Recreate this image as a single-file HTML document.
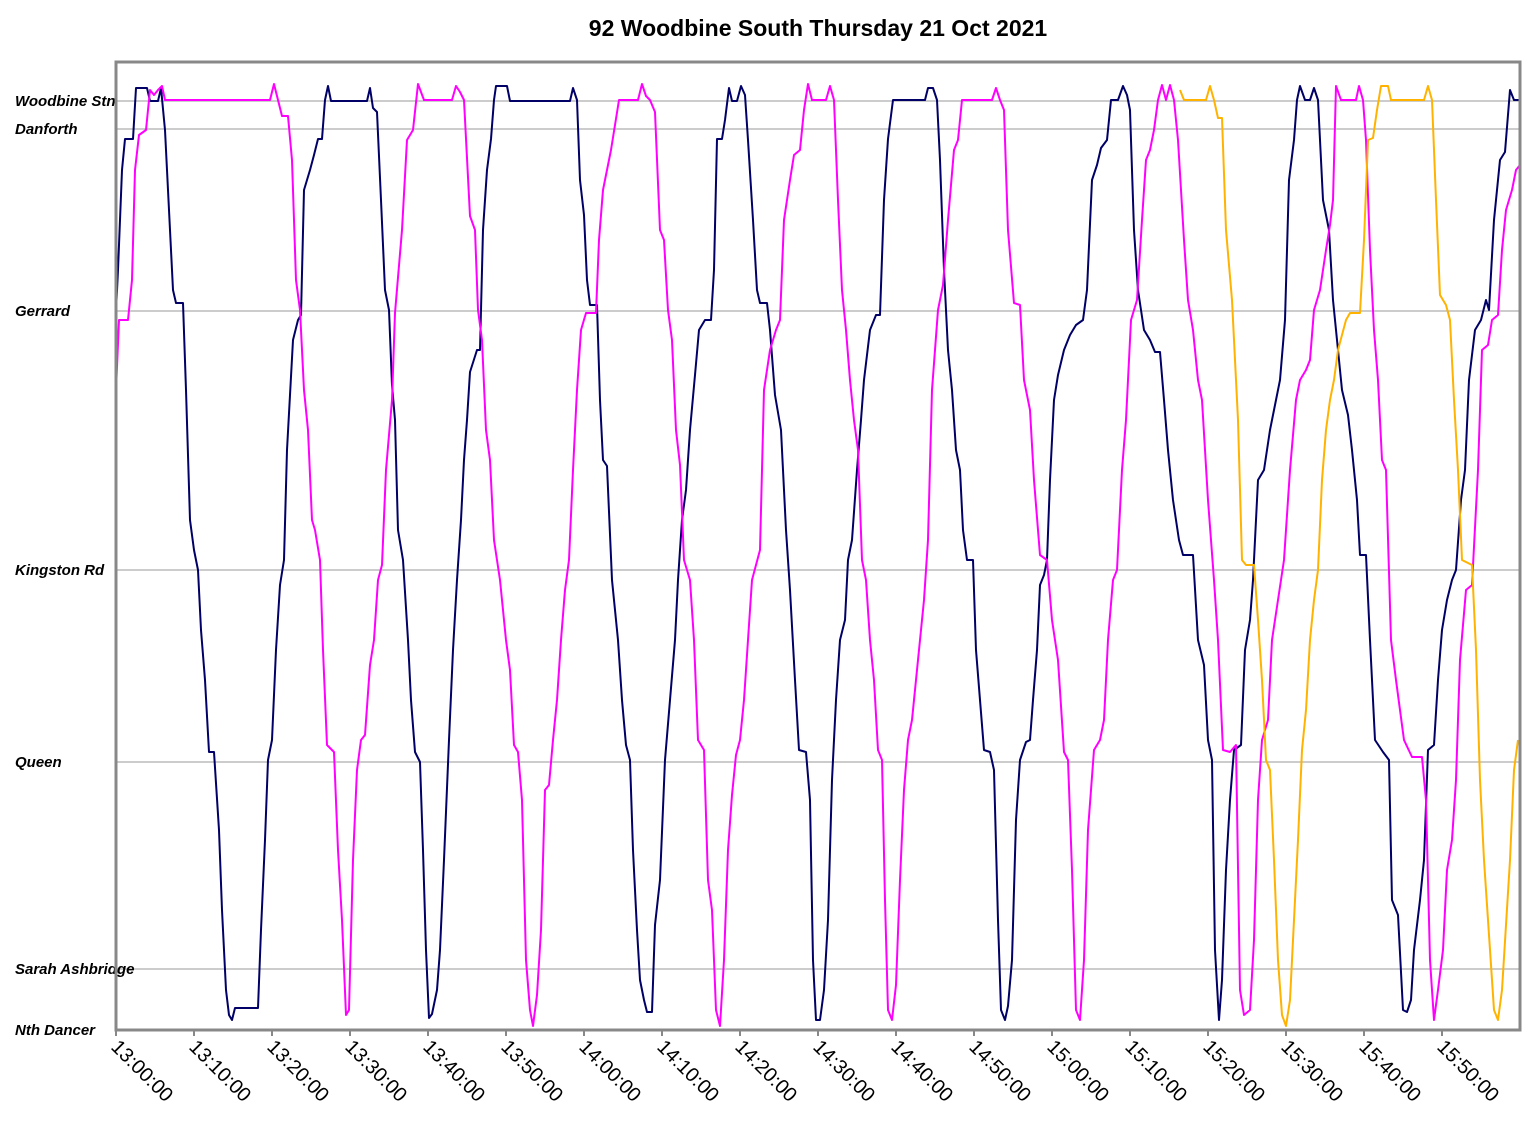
<!DOCTYPE html>
<html><head><meta charset="utf-8"><style>
html,body{margin:0;padding:0;background:#fff;}
svg text{font-family:"Liberation Sans",Arial,sans-serif;}
</style></head><body>
<svg id="chart" width="1534" height="1130" viewBox="0 0 1534 1130" xmlns="http://www.w3.org/2000/svg">
<text x="818" y="36" text-anchor="middle" font-size="23" font-weight="bold">92 Woodbine South Thursday 21 Oct 2021</text>
<g id="grid"></g>
<g id="ylabels"></g>
<g id="xlabels"></g>
<g id="series"></g>
<rect x="116" y="62" width="1404" height="968" fill="none" stroke="#888" stroke-width="3"/>
</svg>
<script>
// Station names and their position (distance units, chart reading)
const stationNames = ["Woodbine Stn","Danforth","Gerrard","Kingston Rd","Queen","Sarah Ashbridge","Nth Dancer"];
const stationPos = [101,129,311,570,762,969,1030];
const tickLabels = ["13:00:00","13:10:00","13:20:00","13:30:00","13:40:00","13:50:00","14:00:00","14:10:00","14:20:00","14:30:00","14:40:00","14:50:00","15:00:00","15:10:00","15:20:00","15:30:00","15:40:00","15:50:00"];
const tickTimes = [116,194,272,350,428,506,584,662,740,818,896,974,1052,1130,1208,1286,1364,1442];
// series data: [time unit, distance unit]
const navyBus = [[116,311],[118,270],[122,170],[125,139],[133,139],[136,88],[147,88],[150,101],[158,101],[161,88],[165,130],[170,230],[173,290],[176,303],[183,303],[186,390],[190,520],[194,550],[198,570],[201,630],[205,680],[209,752],[214,752],[219,830],[222,910],[226,990],[229,1015],[232,1020],[235,1008],[258,1008],[261,930],[265,840],[268,760],[272,740],[276,650],[280,585],[284,560],[287,450],[293,340],[298,320],[301,315],[304,190],[310,170],[314,155],[318,139],[322,139],[325,100],[328,86],[331,101],[367,101],[370,88],[373,108],[377,112],[381,200],[385,290],[389,310],[392,385],[395,420],[398,530],[403,560],[408,640],[411,700],[415,752],[420,762],[423,850],[426,950],[429,1018],[432,1014],[437,990],[440,950],[444,860],[449,740],[453,650],[457,580],[461,520],[464,460],[467,420],[470,372],[477,350],[480,350],[483,230],[487,170],[491,139],[494,100],[496,86],[507,86],[510,101],[570,101],[573,88],[577,100],[580,180],[584,215],[587,280],[590,305],[597,305],[600,400],[603,460],[607,466],[612,580],[618,640],[622,700],[626,745],[630,760],[633,850],[637,930],[640,980],[644,1000],[647,1012],[652,1012],[655,925],[660,880],[665,760],[670,700],[675,640],[678,580],[682,520],[686,490],[690,430],[695,375],[699,330],[705,320],[711,320],[714,270],[717,139],[722,139],[725,120],[729,88],[732,101],[737,101],[741,86],[745,95],[748,140],[753,220],[757,290],[760,303],[767,303],[770,330],[775,395],[781,430],[786,530],[790,590],[795,680],[799,750],[806,752],[810,800],[813,960],[816,1020],[820,1020],[824,990],[828,920],[832,780],[836,700],[840,640],[845,620],[848,560],[852,540],[857,470],[861,420],[864,380],[870,330],[876,315],[880,315],[884,200],[888,139],[893,100],[925,100],[928,88],[933,88],[937,100],[940,160],[944,270],[948,350],[952,390],[956,450],[960,470],[963,530],[967,560],[973,560],[976,650],[980,700],[984,750],[990,752],[994,770],[998,920],[1001,1010],[1005,1020],[1008,1006],[1012,960],[1016,820],[1020,760],[1026,742],[1030,740],[1033,700],[1037,650],[1040,585],[1044,575],[1047,560],[1050,480],[1054,400],[1058,375],[1064,350],[1070,335],[1076,325],[1083,320],[1087,290],[1092,180],[1097,165],[1101,148],[1107,140],[1111,100],[1118,100],[1123,86],[1127,95],[1130,110],[1134,230],[1138,290],[1144,330],[1150,340],[1155,352],[1160,352],[1164,400],[1168,450],[1173,500],[1179,540],[1183,555],[1193,555],[1198,640],[1204,665],[1208,740],[1212,760],[1215,950],[1219,1020],[1222,980],[1226,870],[1230,800],[1234,750],[1241,745],[1245,650],[1250,620],[1253,580],[1258,480],[1264,470],[1270,430],[1276,400],[1280,380],[1285,320],[1289,180],[1294,140],[1297,100],[1300,86],[1305,100],[1310,100],[1314,88],[1318,100],[1323,200],[1329,230],[1333,300],[1338,350],[1342,390],[1348,415],[1352,450],[1357,500],[1360,555],[1366,555],[1370,640],[1375,740],[1383,752],[1389,760],[1392,900],[1398,915],[1403,1010],[1407,1012],[1411,1000],[1414,950],[1420,900],[1424,860],[1428,750],[1434,745],[1438,680],[1442,630],[1447,600],[1452,580],[1456,570],[1461,500],[1465,470],[1469,380],[1475,330],[1481,320],[1486,300],[1489,310],[1494,220],[1500,160],[1505,152],[1510,90],[1514,100],[1520,100]];
const magentaBus = [[116,390],[119,320],[128,320],[132,280],[135,170],[139,135],[146,130],[150,90],[154,95],[158,90],[162,86],[165,100],[270,100],[274,84],[278,100],[282,116],[288,116],[292,160],[296,280],[300,310],[304,390],[308,430],[312,520],[315,530],[320,560],[323,650],[327,745],[334,752],[338,850],[342,920],[346,1015],[349,1010],[353,860],[357,770],[361,740],[365,735],[370,665],[374,640],[378,580],[382,565],[386,470],[392,400],[395,313],[402,230],[407,140],[413,130],[418,84],[424,100],[452,100],[456,86],[460,92],[464,100],[470,216],[475,230],[478,310],[482,340],[486,430],[490,460],[494,540],[500,580],[506,640],[510,670],[514,745],[518,752],[522,800],[526,960],[530,1010],[533,1026],[537,995],[541,930],[545,790],[549,785],[553,740],[557,700],[561,640],[565,590],[569,560],[573,470],[577,390],[581,330],[586,313],[596,313],[599,240],[603,190],[607,170],[611,150],[615,125],[619,100],[638,100],[642,84],[646,96],[650,100],[655,112],[660,230],[664,240],[668,310],[672,340],[676,430],[680,465],[684,560],[690,580],[694,640],[698,740],[704,750],[708,880],[712,910],[716,1010],[720,1026],[724,960],[728,850],[732,795],[736,755],[740,740],[744,700],[748,640],[752,580],[760,550],[764,390],[770,350],[776,330],[780,320],[784,220],[790,180],[794,155],[800,150],[804,110],[808,84],[812,100],[826,100],[830,86],[834,100],[838,200],[842,290],[846,330],[850,380],[854,420],[858,450],[862,560],[866,580],[870,640],[874,680],[878,750],[882,760],[885,900],[888,1010],[892,1020],[896,985],[900,880],[904,790],[908,740],[912,720],[916,680],[920,640],[924,600],[928,540],[932,390],[938,310],[943,285],[948,220],[954,150],[958,140],[962,100],[992,100],[996,88],[1000,100],[1004,110],[1008,230],[1014,303],[1020,305],[1024,380],[1030,410],[1034,480],[1040,555],[1047,560],[1052,620],[1058,660],[1064,752],[1068,760],[1072,870],[1076,1010],[1080,1020],[1084,960],[1088,830],[1094,750],[1100,740],[1104,720],[1108,640],[1113,580],[1117,570],[1122,470],[1126,420],[1131,320],[1137,300],[1142,220],[1146,160],[1150,150],[1154,130],[1158,100],[1162,85],[1166,100],[1170,85],[1174,100],[1178,140],[1184,240],[1188,300],[1193,330],[1198,380],[1202,400],[1208,500],[1214,580],[1218,640],[1223,750],[1230,752],[1236,745],[1240,990],[1244,1015],[1250,1010],[1254,940],[1258,800],[1262,740],[1268,720],[1272,640],[1278,600],[1284,560],[1290,470],[1296,400],[1300,380],[1306,370],[1310,360],[1314,310],[1320,290],[1326,250],[1330,225],[1333,200],[1336,86],[1341,100],[1356,100],[1359,86],[1363,100],[1366,140],[1370,250],[1374,330],[1378,380],[1382,460],[1386,470],[1391,640],[1396,680],[1404,740],[1412,757],[1422,757],[1426,800],[1430,960],[1434,1020],[1438,990],[1443,950],[1447,870],[1452,840],[1456,780],[1460,660],[1466,590],[1472,585],[1478,470],[1482,350],[1488,345],[1492,320],[1498,315],[1502,250],[1506,210],[1512,190],[1516,170],[1520,165]];
const orangeBus = [[1180,90],[1184,100],[1206,100],[1210,86],[1214,100],[1218,118],[1222,118],[1226,230],[1232,300],[1238,420],[1242,560],[1246,565],[1254,565],[1258,620],[1262,680],[1266,760],[1270,770],[1274,860],[1278,960],[1282,1015],[1286,1026],[1290,1000],[1294,920],[1298,840],[1302,750],[1306,710],[1310,640],[1314,600],[1318,570],[1322,480],[1326,430],[1330,400],[1334,380],[1338,350],[1342,335],[1346,320],[1350,313],[1360,313],[1364,240],[1368,140],[1373,138],[1377,110],[1381,86],[1388,86],[1391,100],[1424,100],[1428,86],[1432,100],[1436,200],[1440,295],[1446,305],[1450,320],[1454,400],[1458,470],[1462,560],[1472,565],[1476,650],[1480,780],[1484,860],[1488,920],[1494,1010],[1498,1020],[1502,990],[1506,925],[1510,860],[1514,770],[1518,740]];

const NS="http://www.w3.org/2000/svg";
const PL=116, PR=1520, PT=62, PB=1030;
const T0=116, T1=1520, D0=62, D1=1030;
function xScale(t){return PL+(t-T0)/(T1-T0)*(PR-PL);}
function yScale(d){return PT+(d-D0)/(D1-D0)*(PB-PT);}

const grid=document.getElementById('grid');
const yl=document.getElementById('ylabels');
stationNames.forEach((n,i)=>{
  const y=yScale(stationPos[i]);
  const ln=document.createElementNS(NS,'line');
  
  
  ln.setAttribute('x1',PL);ln.setAttribute('x2',PR);ln.setAttribute('y1',y);ln.setAttribute('y2',y);
  ln.setAttribute('stroke','#999');ln.setAttribute('stroke-width','1');
  grid.appendChild(ln);
  const tx=document.createElementNS(NS,'text');
  
  
  tx.setAttribute('x',15);tx.setAttribute('y',y+5);
  tx.setAttribute('font-size','15');tx.setAttribute('font-weight','bold');tx.setAttribute('font-style','italic');
  tx.textContent=n;yl.appendChild(tx);
});
const xl=document.getElementById('xlabels');
tickLabels.forEach((lab,i)=>{
  const x=xScale(tickTimes[i]);
  const tk=document.createElementNS(NS,'line');
  
  
  tk.setAttribute('x1',x);tk.setAttribute('x2',x);tk.setAttribute('y1',PB);tk.setAttribute('y2',PB+6);
  tk.setAttribute('stroke','#888');tk.setAttribute('stroke-width','2');
  xl.appendChild(tk);
  const tx=document.createElementNS(NS,'text');
  
  
  tx.setAttribute('font-size','20');
  tx.setAttribute('transform','translate('+(x-6)+','+(PB+18)+') rotate(45)');
  tx.textContent=lab;xl.appendChild(tx);
});
const sg=document.getElementById('series');
function drawSeries(data,color,name){
  const p=document.createElementNS(NS,'polyline');
  
  
  p.setAttribute('points',data.map(d=>xScale(d[0]).toFixed(1)+','+yScale(d[1]).toFixed(1)).join(' '));
  p.setAttribute('fill','none');p.setAttribute('stroke',color);p.setAttribute('stroke-width','2');
  p.setAttribute('stroke-linejoin','round');
  sg.appendChild(p);
}
drawSeries(navyBus,'#000066','navy-bus-line');
drawSeries(magentaBus,'#ff00ff','magenta-bus-line');
drawSeries(orangeBus,'#ffb300','orange-bus-line');
</script>
</body></html>
